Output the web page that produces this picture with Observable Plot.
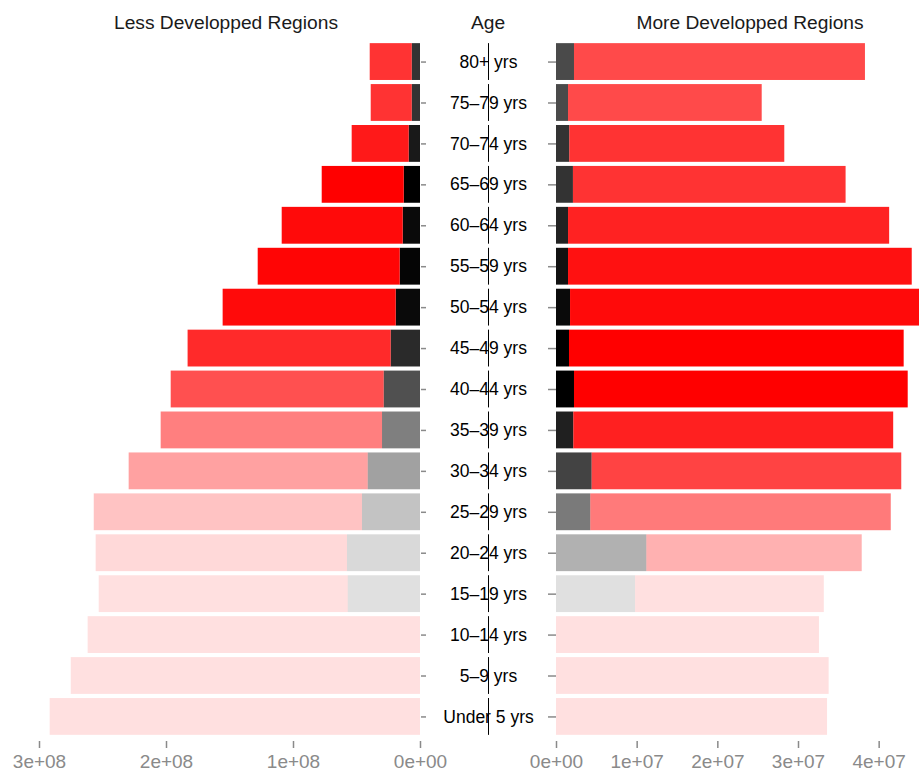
<!DOCTYPE html>
<html>
<head>
<meta charset="utf-8">
<script src="https://cdn.jsdelivr.net/npm/d3@7"></script>
<script src="https://cdn.jsdelivr.net/npm/@observablehq/plot@0.6"></script>
<style>
  html, body { margin: 0; padding: 0; background: #fff; }
  #chart { position: relative; width: 919px; height: 771px; overflow: hidden; font-family: "Liberation Sans", Arial, Helvetica, sans-serif; }
  #chart > svg, #chart > figure { position: absolute; top: 0; margin: 0; }
</style>
</head>
<body>
<div id="chart"></div>
<script>
// ---- data (bottom to top) ----
const ages = ["Under 5 yrs","5–9 yrs","10–14 yrs","15–19 yrs","20–24 yrs","25–29 yrs","30–34 yrs","35–39 yrs","40–44 yrs","45–49 yrs","50–54 yrs","55–59 yrs","60–64 yrs","65–69 yrs","70–74 yrs","75–79 yrs","80+ yrs"];
const unit = 1e6;
// Less developped regions (millions): inner (grey) and outer (red) segments
const lessInner = [0, 0, 0, 56.9, 57.5, 45.7, 41.2, 29.9, 28.6, 23.1, 19.1, 16.0, 13.6, 12.8, 8.9, 6.5, 6.5];
const lessOuter = [291.6, 275.0, 261.7, 196.1, 197.9, 211.2, 188.2, 174.3, 167.7, 159.9, 136.3, 111.8, 95.3, 64.6, 44.9, 32.3, 33.1];
const lessAlpha = [0.12, 0.12, 0.12, 0.12, 0.15, 0.235, 0.37, 0.5, 0.686, 0.835, 0.96, 0.98, 0.96, 1.0, 0.9, 0.8, 0.8];
// More developped regions (millions)
const moreInner = [0, 0, 0, 9.8, 11.2, 4.25, 4.42, 2.15, 2.23, 1.61, 1.74, 1.49, 1.49, 2.1, 1.65, 1.49, 2.23];
const moreOuter = [33.6, 33.8, 32.6, 23.4, 26.7, 37.25, 38.38, 39.65, 41.37, 41.49, 43.26, 42.61, 39.81, 33.8, 26.65, 24.01, 36.07];
const moreAlpha = [0.12, 0.12, 0.12, 0.12, 0.306, 0.52, 0.737, 0.875, 1.0, 1.0, 0.96, 0.933, 0.867, 0.8, 0.8, 0.71, 0.71];
const lessTicks = [0, 1e8, 2e8, 3e8];
const moreTicks = [0, 1e7, 2e7, 3e7, 4e7];
const titles = {left: "Less Developped Regions", mid: "Age", right: "More Developped Regions"};

// ---- helpers ----
const fmt = d => d3.format(".0e")(d).replace(/e([+-])(\d)$/, (m, s, n) => "e" + s + "0" + n);
const rows = (inner, outer, alpha) => ages.flatMap((age, i) => [
  {age, part: "inner", value: inner[i] * unit, color: "black", alpha: alpha[i]},
  {age, part: "outer", value: outer[i] * unit, color: "red", alpha: alpha[i]}
]);
const yDomain = ages.slice().reverse();
const font = "'Liberation Sans', Arial, Helvetica, sans-serif";
const common = {
  height: 771, marginTop: 37, marginBottom: 30,
  style: {fontFamily: font, background: "transparent", overflow: "visible"},
  y: {domain: yDomain, paddingInner: 0.1, paddingOuter: 0.15, round: false, axis: null, label: null},
  color: {type: "identity"},
  opacity: {type: "identity"}
};

const chart = document.getElementById("chart");

// Left panel
const left = Plot.plot({
  ...common,
  width: 440, marginLeft: 39, marginRight: 20,
  x: {domain: [0, 3e8], reverse: true, axis: null, label: null},
  marks: [
    Plot.barX(rows(lessInner, lessOuter, lessAlpha), {x: "value", y: "age", fill: "color", fillOpacity: "alpha"}),
    Plot.axisX({ticks: lessTicks, tickFormat: fmt, tickSize: 7, tickPadding: 6, fontSize: 19, stroke: "#8a8a8a", fill: "#8a8a8a", strokeWidth: 1.5, label: null}),
    Plot.axisY({anchor: "right", tickSize: 5, tickFormat: () => "", stroke: "#8a8a8a", strokeWidth: 1.5, label: null})
  ]
});
left.style.left = "0px";
chart.appendChild(left);

// Middle panel (age labels)
const mid = Plot.plot({
  ...common,
  width: 96, marginLeft: 0, marginRight: 0,
  x: {domain: [-1, 1], axis: null},
  marks: [
    Plot.text(ages, {y: d => d, text: d => d, fontSize: 17.5, fill: "#000"}),
    Plot.tickX(ages, {x: 0, y: d => d, stroke: "#000", strokeWidth: 1})
  ]
});
mid.style.left = "440px";
chart.appendChild(mid);

// Right panel
const right = Plot.plot({
  ...common,
  width: 379, marginLeft: 16, marginRight: 0,
  x: {domain: [0, 4.5e7], axis: null, label: null},
  marks: [
    Plot.barX(rows(moreInner, moreOuter, moreAlpha), {x: "value", y: "age", fill: "color", fillOpacity: "alpha"}),
    Plot.axisX({ticks: moreTicks, tickFormat: fmt, tickSize: 7, tickPadding: 6, fontSize: 19, stroke: "#8a8a8a", fill: "#8a8a8a", strokeWidth: 1.5, label: null}),
    Plot.axisY({anchor: "left", tickSize: 8, tickFormat: () => "", stroke: "#8a8a8a", strokeWidth: 1.5, label: null})
  ]
});
right.style.left = "540px";
chart.appendChild(right);

// Titles overlay
const t = d3.create("svg").attr("width", 919).attr("height", 60)
  .style("left", "0px").style("pointer-events", "none")
  .attr("font-family", font).attr("font-size", 19.2).attr("fill", "#1a1a1a").attr("text-anchor", "middle");
t.append("text").attr("x", 226).attr("y", 29).text(titles.left);
t.append("text").attr("x", 488).attr("y", 29).text(titles.mid);
t.append("text").attr("x", 750).attr("y", 29).text(titles.right);
chart.appendChild(t.node());
</script>
</body>
</html>
